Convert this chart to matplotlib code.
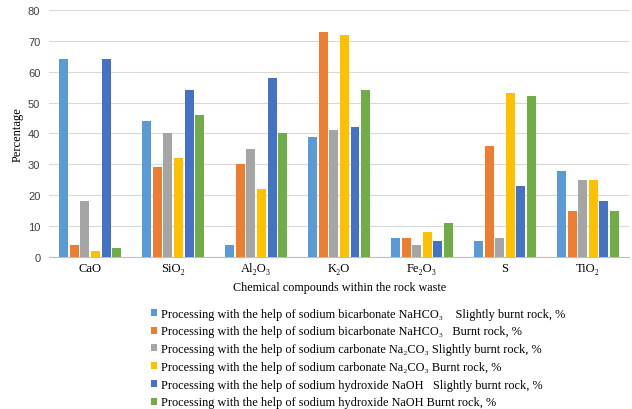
import numpy as np
import matplotlib.pyplot as plt

serif = ['Liberation Serif', 'DejaVu Serif']

compounds = ['CaO', 'SiO₂', 'Al₂O₃', 'K₂O', 'Fe₂O₃', 'S', 'TiO₂']

series_names = [
    'Processing with the help of sodium bicarbonate NaHCO₃    Slightly burnt rock, %',
    'Processing with the help of sodium bicarbonate NaHCO₃   Burnt rock, %',
    'Processing with the help of sodium carbonate Na₂CO₃ Slightly burnt rock, %',
    'Processing with the help of sodium carbonate Na₂CO₃ Burnt rock, %',
    'Processing with the help of sodium hydroxide NaOH   Slightly burnt rock, %',
    'Processing with the help of sodium hydroxide NaOH Burnt rock, %',
]

bicarb_slight = [64, 44, 4, 39, 6, 5, 28]
bicarb_burnt = [4, 29, 30, 73, 6, 36, 15]
carb_slight = [18, 40, 35, 41, 4, 6, 25]
carb_burnt = [2, 32, 22, 72, 8, 53, 25]
hydrox_slight = [64, 54, 58, 42, 5, 23, 18]
hydrox_burnt = [3, 46, 40, 54, 11, 52, 15]

series = [bicarb_slight, bicarb_burnt, carb_slight, carb_burnt, hydrox_slight, hydrox_burnt]
colors = ['#5B9BD5', '#ED7D31', '#A5A5A5', '#FFC000', '#4472C4', '#70AD47']

fig = plt.figure(figsize=(6.32, 4.10), dpi=100)
ax = fig.add_axes([0.077, 0.371, 0.919, 0.602])

x = np.arange(len(compounds))
slot = 0.128
bw = 0.108
for i, (vals, c, name) in enumerate(zip(series, colors, series_names)):
    ax.bar(x + (i - 2.5) * slot, vals, bw, color=c, label=name, zorder=3)

ax.set_xlim(-0.5, len(compounds) - 0.5)
ax.set_ylim(0, 80)
ax.set_yticks(range(0, 81, 10))
ax.yaxis.grid(True, color='#D9D9D9', linewidth=0.8, zorder=0)
for s in ['top', 'right', 'left']:
    ax.spines[s].set_visible(False)
ax.spines['bottom'].set_color('#BFBFBF')
ax.tick_params(axis='both', length=0)
ax.tick_params(axis='y', labelsize=8, labelcolor='#404040', pad=6)
for t in ax.get_yticklabels():
    t.set_family('Liberation Sans')
ax.set_xticks(x)
ax.set_xticklabels(compounds, family=serif, fontsize=9)
ax.set_ylabel('Percentage', family=serif, fontsize=9, labelpad=3)
ax.set_xlabel('Chemical compounds within the rock waste', family=serif,
              fontsize=8.7, labelpad=5)

fig.legend(loc='upper left', bbox_to_anchor=(0.239, 0.247), frameon=False,
           prop={'family': serif, 'size': 8.8},
           handlelength=0.5, handleheight=0.5, handletextpad=0.3,
           labelspacing=0.47, borderpad=0, borderaxespad=0)

fig.savefig('out.png', dpi=100)
